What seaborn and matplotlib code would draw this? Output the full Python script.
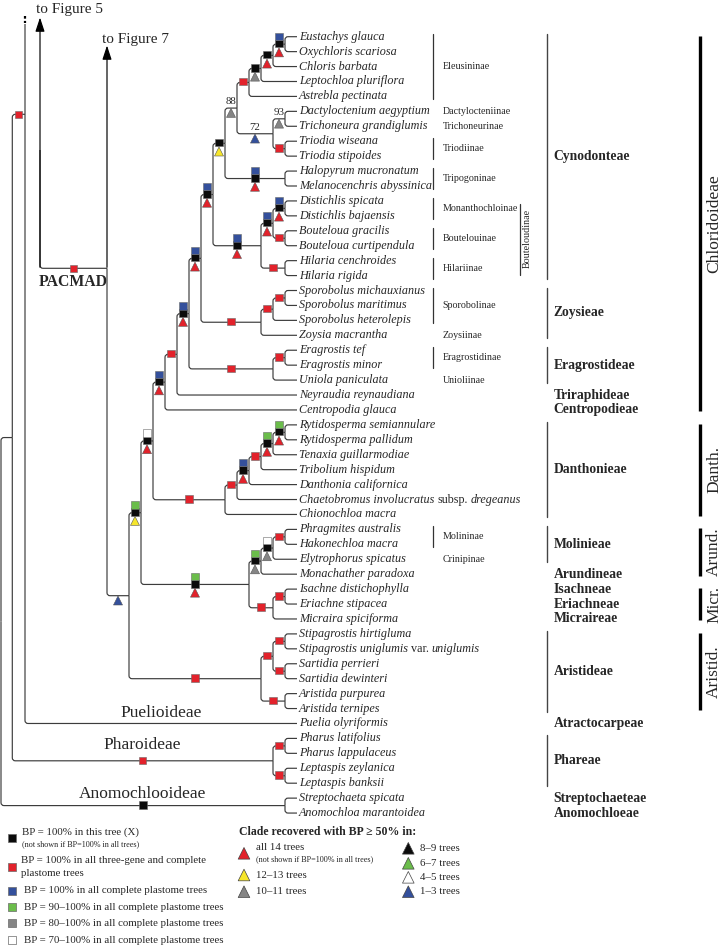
import numpy as np
import pandas as pd
import matplotlib.pyplot as plt
import seaborn as sns
from matplotlib.path import Path
from matplotlib.patches import PathPatch

# ==========================================
# DATA
# ==========================================
taxa = [
    'Eustachys glauca', 'Oxychloris scariosa', 'Chloris barbata', 'Leptochloa pluriflora',
    'Astrebla pectinata', 'Dactyloctenium aegyptium', 'Trichoneura grandiglumis',
    'Triodia wiseana', 'Triodia stipoides', 'Halopyrum mucronatum', 'Melanocenchris abyssinica',
    'Distichlis spicata', 'Distichlis bajaensis', 'Bouteloua gracilis', 'Bouteloua curtipendula',
    'Hilaria cenchroides', 'Hilaria rigida', 'Sporobolus michauxianus', 'Sporobolus maritimus',
    'Sporobolus heterolepis', 'Zoysia macrantha', 'Eragrostis tef', 'Eragrostis minor',
    'Uniola paniculata', 'Neyraudia reynaudiana', 'Centropodia glauca',
    'Rytidosperma semiannulare', 'Rytidosperma pallidum', 'Tenaxia guillarmodiae',
    'Tribolium hispidum', 'Danthonia californica', 'Chaetobromus involucratus subsp. dregeanus',
    'Chionochloa macra', 'Phragmites australis', 'Hakonechloa macra', 'Elytrophorus spicatus',
    'Monachather paradoxa', 'Isachne distichophylla', 'Eriachne stipacea', 'Micraira spiciforma',
    'Stipagrostis hirtigluma', 'Stipagrostis uniglumis var. uniglumis', 'Sartidia perrieri',
    'Sartidia dewinteri', 'Aristida purpurea', 'Aristida ternipes', 'Puelia olyriformis',
    'Pharus latifolius', 'Pharus lappulaceus', 'Leptaspis zeylanica', 'Leptaspis banksii',
    'Streptochaeta spicata', 'Anomochloa marantoidea',
]
rank_words = ['subsp.', 'var.']

# internal nodes: name, children, squares (top -> bottom), triangle, BP value
nodes = [
    ('eus', ['Eustachys glauca', 'Oxychloris scariosa'], ['blue', 'black'], 'red', None),
    ('chl', ['eus', 'Chloris barbata'], ['black'], 'red', None),
    ('lep', ['chl', 'Leptochloa pluriflora'], ['black'], 'grey', None),
    ('ele', ['lep', 'Astrebla pectinata'], ['red'], None, None),
    ('dac', ['Dactyloctenium aegyptium', 'Trichoneura grandiglumis'], [], 'grey', '93'),
    ('tri', ['Triodia wiseana', 'Triodia stipoides'], ['red'], None, None),
    ('dtr', ['dac', 'tri'], [], 'blue', '72'),
    ('eld', ['ele', 'dtr'], [], 'grey', '88'),
    ('tpg', ['Halopyrum mucronatum', 'Melanocenchris abyssinica'], ['blue', 'black'], 'red', None),
    ('cy1', ['eld', 'tpg'], ['black'], 'yellow', None),
    ('dis', ['Distichlis spicata', 'Distichlis bajaensis'], ['blue', 'black'], 'red', None),
    ('bou', ['Bouteloua gracilis', 'Bouteloua curtipendula'], ['red'], None, None),
    ('db', ['dis', 'bou'], ['blue', 'black'], 'red', None),
    ('hil', ['Hilaria cenchroides', 'Hilaria rigida'], ['red'], None, None),
    ('btd', ['db', 'hil'], ['blue', 'black'], 'red', None),
    ('cyn', ['cy1', 'btd'], ['blue', 'black'], 'red', None),
    ('sp1', ['Sporobolus michauxianus', 'Sporobolus maritimus'], ['red'], None, None),
    ('spo', ['sp1', 'Sporobolus heterolepis'], ['red'], None, None),
    ('zoy', ['spo', 'Zoysia macrantha'], ['red'], None, None),
    ('cz', ['cyn', 'zoy'], ['blue', 'black'], 'red', None),
    ('er1', ['Eragrostis tef', 'Eragrostis minor'], ['red'], None, None),
    ('era', ['er1', 'Uniola paniculata'], ['red'], None, None),
    ('cze', ['cz', 'era'], ['blue', 'black'], 'red', None),
    ('tra', ['cze', 'Neyraudia reynaudiana'], ['red'], None, None),
    ('chd', ['tra', 'Centropodia glauca'], ['blue', 'black'], 'red', None),
    ('ryt', ['Rytidosperma semiannulare', 'Rytidosperma pallidum'], ['green', 'black'], 'red', None),
    ('ten', ['ryt', 'Tenaxia guillarmodiae'], ['green', 'black'], 'red', None),
    ('trb', ['ten', 'Tribolium hispidum'], ['red'], None, None),
    ('dan', ['trb', 'Danthonia californica'], ['blue', 'black'], 'red', None),
    ('cha', ['dan', 'Chaetobromus involucratus subsp. dregeanus'], ['red'], None, None),
    ('dth', ['cha', 'Chionochloa macra'], ['red'], None, None),
    ('cd', ['chd', 'dth'], ['white', 'black'], 'red', None),
    ('mo1', ['Phragmites australis', 'Hakonechloa macra'], ['red'], None, None),
    ('mol', ['mo1', 'Elytrophorus spicatus'], ['white', 'black'], 'grey', None),
    ('aru', ['mol', 'Monachather paradoxa'], ['green', 'black'], 'grey', None),
    ('mi1', ['Isachne distichophylla', 'Eriachne stipacea'], ['red'], None, None),
    ('mic', ['mi1', 'Micraira spiciforma'], ['red'], None, None),
    ('am', ['aru', 'mic'], ['green', 'black'], 'red', None),
    ('cma', ['cd', 'am'], ['green', 'black'], 'yellow', None),
    ('sti', ['Stipagrostis hirtigluma', 'Stipagrostis uniglumis var. uniglumis'], ['red'], None, None),
    ('sar', ['Sartidia perrieri', 'Sartidia dewinteri'], ['red'], None, None),
    ('ss', ['sti', 'sar'], ['red'], None, None),
    ('ar1', ['Aristida purpurea', 'Aristida ternipes'], ['red'], None, None),
    ('ari', ['ss', 'ar1'], ['red'], None, None),
    ('pac', ['cma', 'ari'], [], 'blue', None),
    ('ph1', ['Pharus latifolius', 'Pharus lappulaceus'], ['red'], None, None),
    ('ph2', ['Leptaspis zeylanica', 'Leptaspis banksii'], ['red'], None, None),
    ('pha', ['ph1', 'ph2'], ['red'], None, None),
    ('ano', ['Streptochaeta spicata', 'Anomochloa marantoidea'], ['black'], None, None),
]

subtribes = [
    ('Eleusininae', 'Eustachys glauca', 'Astrebla pectinata', True),
    ('Dactylocteniinae', 'Dactyloctenium aegyptium', 'Dactyloctenium aegyptium', False),
    ('Trichoneurinae', 'Trichoneura grandiglumis', 'Trichoneura grandiglumis', False),
    ('Triodiinae', 'Triodia wiseana', 'Triodia stipoides', True),
    ('Tripogoninae', 'Halopyrum mucronatum', 'Melanocenchris abyssinica', True),
    ('Monanthochloinae', 'Distichlis spicata', 'Distichlis bajaensis', True),
    ('Boutelouinae', 'Bouteloua gracilis', 'Bouteloua curtipendula', True),
    ('Hilariinae', 'Hilaria cenchroides', 'Hilaria rigida', True),
    ('Sporobolinae', 'Sporobolus michauxianus', 'Sporobolus heterolepis', True),
    ('Zoysiinae', 'Zoysia macrantha', 'Zoysia macrantha', False),
    ('Eragrostidinae', 'Eragrostis tef', 'Eragrostis minor', True),
    ('Unioliinae', 'Uniola paniculata', 'Uniola paniculata', False),
    ('Molininae', 'Phragmites australis', 'Hakonechloa macra', True),
    ('Crinipinae', 'Elytrophorus spicatus', 'Elytrophorus spicatus', False),
]
supertribe = ('Bouteloudinae', 'Distichlis spicata', 'Hilaria rigida')

tribes = [
    ('Cynodonteae', 'Eustachys glauca', 'Hilaria rigida', True),
    ('Zoysieae', 'Sporobolus michauxianus', 'Zoysia macrantha', True),
    ('Eragrostideae', 'Eragrostis tef', 'Uniola paniculata', True),
    ('Triraphideae', 'Neyraudia reynaudiana', 'Neyraudia reynaudiana', False),
    ('Centropodieae', 'Centropodia glauca', 'Centropodia glauca', False),
    ('Danthonieae', 'Rytidosperma semiannulare', 'Chionochloa macra', True),
    ('Molinieae', 'Phragmites australis', 'Elytrophorus spicatus', True),
    ('Arundineae', 'Monachather paradoxa', 'Monachather paradoxa', False),
    ('Isachneae', 'Isachne distichophylla', 'Isachne distichophylla', False),
    ('Eriachneae', 'Eriachne stipacea', 'Eriachne stipacea', False),
    ('Micraireae', 'Micraira spiciforma', 'Micraira spiciforma', False),
    ('Aristideae', 'Stipagrostis hirtigluma', 'Aristida ternipes', True),
    ('Atractocarpeae', 'Puelia olyriformis', 'Puelia olyriformis', False),
    ('Phareae', 'Pharus latifolius', 'Leptaspis banksii', True),
    ('Streptochaeteae', 'Streptochaeta spicata', 'Streptochaeta spicata', False),
    ('Anomochloeae', 'Anomochloa marantoidea', 'Anomochloa marantoidea', False),
]

subfamilies = [
    ('Chloridoideae', 'Eustachys glauca', 'Centropodia glauca'),
    ('Danth.', 'Rytidosperma semiannulare', 'Chionochloa macra'),
    ('Arund.', 'Phragmites australis', 'Monachather paradoxa'),
    ('Micr.', 'Isachne distichophylla', 'Micraira spiciforma'),
    ('Aristid.', 'Stipagrostis hirtigluma', 'Aristida ternipes'),
]

sq_legend = [
    ('black', 'BP = 100% in this tree (X)', '(not shown if BP=100% in all trees)'),
    ('red', 'BP = 100% in all three-gene and complete', 'plastome trees'),
    ('blue', 'BP = 100% in all complete plastome trees', None),
    ('green', 'BP = 90–100% in all complete plastome trees', None),
    ('grey', 'BP = 80–100% in all complete plastome trees', None),
    ('white', 'BP = 70–100% in all complete plastome trees', None),
]
tri_legend = [
    ('red', 'all 14 trees', '(not shown if BP=100% in all trees)'),
    ('yellow', '12–13 trees', None),
    ('grey', '10–11 trees', None),
    ('black', '8–9 trees', None),
    ('green', '6–7 trees', None),
    ('white', '4–5 trees', None),
    ('blue', '1–3 trees', None),
]

colors = {'black': '#0b0b0b', 'red': '#e2222b', 'blue': '#34509c', 'green': '#6bbd4b',
          'grey': '#858585', 'white': '#ffffff', 'yellow': '#f6e62b'}

# ==========================================
# LAYOUT (pixel space)
# ==========================================
Y0, DY = 36.7, 14.93
TIP_X, STEP = 297.0, 12.0
LC, LW = '#3c3c3c', 0.85
SERIF = ['Liberation Serif', 'DejaVu Serif']

sns.set_theme(style='white')
plt.rcParams['font.family'] = SERIF

fig = plt.figure(figsize=(7.24, 9.47), dpi=100)
ax = fig.add_axes([0, 0, 1, 1])

kids = {n[0]: n[1] for n in nodes}
leaf_y = {t: Y0 + i * DY for i, t in enumerate(taxa)}

def height(n):
    return 0 if n in leaf_y else 1 + max(height(c) for c in kids[n])

def ypos(n):
    return leaf_y[n] if n in leaf_y else (ypos(kids[n][0]) + ypos(kids[n][-1])) / 2

X = {n: TIP_X - STEP * height(n) for n in list(kids) + taxa}
Y = {n: ypos(n) for n in list(kids) + taxa}

# backbone of the truncated tree
X.update({'PACMAD': 107.0, 'BOP': 40.0, 'PUE': 25.0, 'PHA': 12.3, 'ROOT': 1.0})
Y.update({'PACMAD': 268.3, 'PUE': 114.3})
Y['PHA'] = (Y['PUE'] + Y['pha']) / 2
Y['ROOT'] = (Y['PHA'] + Y['ano']) / 2

parent = {c: p for p, ch in kids.items() for c in ch}
parent.update({'pac': 'PACMAD', 'pha': 'PHA', 'ano': 'ROOT', 'PACMAD': 'BOP', 'PUE': 'PHA'})


def elbow(x0, y0, x1, y1, r=3.0):
    s = np.sign(y1 - y0)
    if abs(y1 - y0) < r:
        verts, codes = [(x0, y1), (x1, y1)], [Path.MOVETO, Path.LINETO]
    else:
        verts = [(x0, y0), (x0, y1 - s * r), (x0, y1), (x0 + r, y1), (x1, y1)]
        codes = [Path.MOVETO, Path.LINETO, Path.CURVE3, Path.CURVE3, Path.LINETO]
    ax.add_patch(PathPatch(Path(verts, codes), fill=False, ec=LC, lw=LW,
                           capstyle='butt', zorder=2))


for p, ch in kids.items():
    for c in ch:
        elbow(X[p], Y[p], X[c], Y[c])

# backbone lines
elbow(X['PACMAD'], Y['PACMAD'], X['pac'], Y['pac'])
elbow(X['BOP'], 150, X['PACMAD'], Y['PACMAD'])
elbow(X['PUE'], 24, TIP_X, Y['Puelia olyriformis'])
elbow(X['PHA'], Y['PHA'], X['PUE'], Y['PUE'])
elbow(X['PHA'], Y['PHA'], X['pha'], Y['pha'])
elbow(X['ROOT'], Y['ROOT'], X['PHA'], Y['PHA'])
elbow(X['ROOT'], Y['ROOT'], X['ano'], Y['ano'])
ax.plot([X['PUE']] * 2, [15.5, 23], color='black', lw=1.6, dashes=(1.2, 1.0),
        solid_capstyle='butt', zorder=2)
for name, xx, ytip in [('to Figure 5', X['BOP'], 17.5), ('to Figure 7', X['PACMAD'], 45.5)]:
    ax.annotate('', xy=(xx, ytip), xytext=(xx, Y['PACMAD'] - 1),
                arrowprops=dict(arrowstyle='-|>,head_length=0.85,head_width=0.28',
                                mutation_scale=10, lw=LW, color='black',
                                shrinkA=0, shrinkB=0), zorder=3)
ax.text(X['BOP'] - 4, 9.0, 'to Figure 5', fontsize=11.0, va='center', ha='left')
ax.text(X['PACMAD'] - 4.5, 39.0, 'to Figure 7', fontsize=11.0, va='center', ha='left')

# ---------- support markers ----------
rows = []
for name, ch, squares, tri, bp in nodes:
    mx = (X[parent[name]] + X[name]) / 2
    y = Y[name]
    for k, c in enumerate(reversed(squares)):
        rows.append(dict(x=mx, y=y - 0.6 - 7.2 * k, color=c, shape='sq'))
    if tri:
        rows.append(dict(x=mx, y=y + (8.2 if squares else 4.8), color=tri, shape='tri'))
    if bp:
        ax.text(mx, y - 6.4, bp, fontsize=7.8, ha='center', va='center', zorder=4)
for child in ['PACMAD', 'PUE']:
    rows.append(dict(x=(X[parent[child]] + X[child]) / 2, y=Y[child], color='red', shape='sq'))
marks = pd.DataFrame(rows)

sq = marks[marks['shape'] == 'sq']
tr = marks[marks['shape'] == 'tri']
sns.scatterplot(data=sq, x='x', y='y', hue='color', palette=colors, marker='s', s=28,
                edgecolor='#6a6a6a', linewidth=0.4, legend=False, zorder=5, ax=ax)
sns.scatterplot(data=tr, x='x', y='y', hue='color', palette=colors, marker='^', s=42,
                edgecolor='#555555', linewidth=0.4, legend=False, zorder=5, ax=ax)

# ---------- taxon labels ----------
FS = 8.7
renderer = fig.canvas.get_renderer()
for t in taxa:
    words = t.split(' ')
    parts, cur, cur_style = [], [], 'italic'
    for w in words:
        st = 'normal' if w in rank_words else 'italic'
        if st != cur_style and cur:
            parts.append((' '.join(cur), cur_style))
            cur = []
        cur_style = st
        cur.append(w)
    parts.append((' '.join(cur), cur_style))
    x = TIP_X + 1.8
    for txt, st in parts:
        tt = ax.text(x, leaf_y[t], txt, fontsize=FS, fontstyle=st, va='center', ha='left')
        x += tt.get_window_extent(renderer=renderer).width + FS * 0.35

# clade names inside the tree
ax.text((X['BOP'] + X['PACMAD']) / 2, Y['PACMAD'] + 14, 'PACMAD', fontsize=11.3,
        fontweight='bold', ha='center', va='center')
ax.text((X['PUE'] + TIP_X) / 2, Y['Puelia olyriformis'] - 10, 'Puelioideae',
        fontsize=12.5, ha='center', va='center')
ax.text((X['PHA'] + X['pha']) / 2, Y['pha'] - 15.5, 'Pharoideae',
        fontsize=12.5, ha='center', va='center')
ax.text((X['ROOT'] + X['ano']) / 2, Y['ano'] - 12, 'Anomochlooideae',
        fontsize=12.5, ha='center', va='center')

# ---------- right-hand annotations ----------
for lab, a, b, bar in subtribes:
    ya, yb = leaf_y[a], leaf_y[b]
    if bar:
        ax.plot([433.3, 433.3], [ya - 3, yb + 3], color='#333333', lw=0.9)
    ax.text(442.5, (ya + yb) / 2, lab, fontsize=7.2, va='center', ha='left')

lab, a, b = supertribe
ax.plot([520, 520], [leaf_y[a] + 3, leaf_y[b] - 1], color='#333333', lw=0.9)
ax.text(527.5, (leaf_y[a] + leaf_y[b]) / 2, lab, fontsize=7.2, rotation=90,
        va='center', ha='center')

for lab, a, b, bar in tribes:
    ya, yb = leaf_y[a], leaf_y[b]
    if bar:
        ax.plot([546.7, 546.7], [ya - 3, yb + 3], color='#444444', lw=1.0)
    ax.text(553.5, (ya + yb) / 2, lab, fontsize=9.8, fontweight='bold', va='center', ha='left')

for lab, a, b in subfamilies:
    ya, yb = leaf_y[a], leaf_y[b]
    ax.plot([700, 700], [ya - 1, yb + 1.5], color='black', lw=2.4, solid_capstyle='butt')
    ax.text(714, (ya + yb) / 2, lab, fontsize=12.5, rotation=90, va='center', ha='center')

# ---------- legends ----------
sq_leg_y = [838.3, 866.7, 890.7, 907.3, 923.3, 940.0]
leg_sq = pd.DataFrame({'x': 12.3, 'y': sq_leg_y, 'color': [c for c, _, _ in sq_legend]})
sns.scatterplot(data=leg_sq, x='x', y='y', hue='color', palette=colors, marker='s', s=36,
                edgecolor='#6a6a6a', linewidth=0.5, legend=False, zorder=5, ax=ax)
for (c, l1, l2), y in zip(sq_legend, sq_leg_y):
    if l2 is None:
        ax.text(23.5, y, l1, fontsize=7.8, va='center', ha='left')
    elif c == 'black':
        ax.text(22.5, y - 6.6, l1, fontsize=7.8, va='center', ha='left')
        ax.text(22.5, y + 6.0, l2, fontsize=5.9, va='center', ha='left')
    else:
        ax.text(21.0, y - 6.7, l1, fontsize=7.8, va='center', ha='left')
        ax.text(21.0, y + 6.6, l2, fontsize=7.8, va='center', ha='left')

ax.text(239.3, 832.3, 'Clade recovered with BP ≥ 50% in:', fontsize=8.5,
        fontweight='bold', va='center', ha='left')
tri_leg_x = [244.0, 244.0, 244.0, 408.3, 408.3, 408.3, 408.3]
tri_leg_y = [853.3, 875.0, 891.7, 848.3, 863.3, 877.3, 891.7]
leg_tr = pd.DataFrame({'x': tri_leg_x, 'y': tri_leg_y, 'color': [c for c, _, _ in tri_legend]})
sns.scatterplot(data=leg_tr, x='x', y='y', hue='color', palette=colors, marker='^', s=70,
                edgecolor='#444444', linewidth=0.5, legend=False, zorder=5, ax=ax)
for (c, l1, l2), x, y in zip(tri_legend, tri_leg_x, tri_leg_y):
    if l2 is None:
        ax.text(x + 11.7, y, l1, fontsize=7.8, va='center', ha='left')
    else:
        ax.text(x + 11.7, y - 6, l1, fontsize=7.8, va='center', ha='left')
        ax.text(x + 11.7, y + 6, l2, fontsize=5.9, va='center', ha='left')

ax.set_xlim(0, 724)
ax.set_ylim(947, 0)
ax.axis('off')
fig.savefig('out.png', dpi=100)
